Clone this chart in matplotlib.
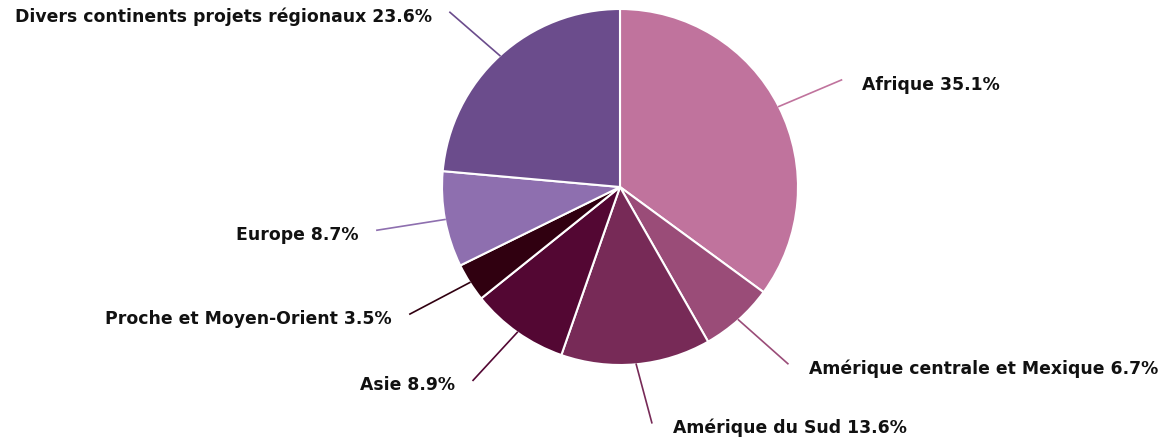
import numpy as np
import matplotlib
matplotlib.use("Agg")
import matplotlib.pyplot as plt

# share of projects by region, clockwise from the top
regions = ["Afrique", "Amérique centrale et Mexique", "Amérique du Sud", "Asie",
           "Proche et Moyen-Orient", "Europe", "Divers continents projets régionaux"]
shares = [35.1, 6.7, 13.6, 8.9, 3.5, 8.7, 23.6]
colors = ["#C0739D", "#9A4C78", "#772A57", "#530733", "#300010", "#8E6FAF", "#6B4C8C"]

fig = plt.figure(figsize=(11.6, 4.4), dpi=100)
ax = fig.add_axes([0, 0, 1, 1])

wedges, _ = ax.pie(shares, colors=colors, startangle=90, counterclock=False,
                   wedgeprops=dict(edgecolor="white", linewidth=1.5))

# pie is 178 px in radius, centred at (620, 187) in the picture
r_px = 178.0
ax.set_xlim(-620 / r_px, 540 / r_px)
ax.set_ylim(-253 / r_px, 187 / r_px)
ax.set_aspect("equal")
ax.axis("off")

for w, name, share, col in zip(wedges, regions, shares, colors):
    ang = np.deg2rad((w.theta1 + w.theta2) / 2)
    x0, y0 = np.cos(ang), np.sin(ang)
    right = x0 >= 0
    side = 1 if right else -1
    # connector: radial out to 1.33 r, then nudged sideways
    x1, y1 = 1.33 * x0 + side * 0.058, 1.33 * y0
    ax.plot([x0, x1], [y0, y1], color=col, lw=1.2)
    ax.annotate("{} {}%".format(name, share), xy=(x1, y1),
                xytext=(15 if right else -13, -3.5), textcoords="offset points",
                ha="left" if right else "right", va="center",
                fontsize=12.4, fontweight="bold", color="#111111")

fig.savefig("out.png", dpi=100)
